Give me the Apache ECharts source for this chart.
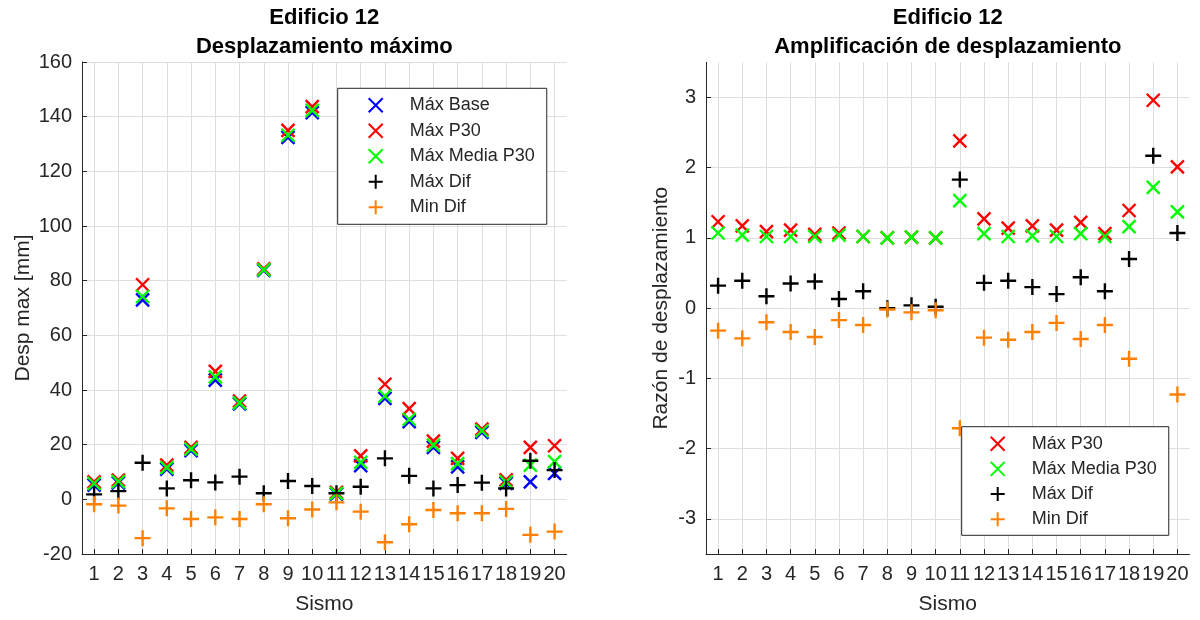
<!DOCTYPE html>
<html>
<head>
<meta charset="utf-8">
<script src="https://cdn.jsdelivr.net/npm/echarts@6/dist/echarts.min.js"></script>
<style>html,body{margin:0;padding:0;background:#fff}#c{width:1200px;height:620px}</style>
</head>
<body>
<div id="c"></div>
<script>
const categories = ['1','2','3','4','5','6','7','8','9','10','11','12','13','14','15','16','17','18','19','20'];

// Left: Desplazamiento máximo [mm]
const leftMaxBase = [5.2, 6.0, 73.0, 11.0, 17.8, 43.6, 34.9, 83.8, 132.4, 141.5, 1.9, 12.3, 36.9, 28.4, 19.0, 11.9, 24.5, 5.8, 6.4, 9.5];
const leftMaxP30 = [6.4, 7.0, 78.5, 12.5, 19.0, 46.8, 35.9, 84.3, 135.0, 143.7, 2.6, 15.9, 42.1, 33.2, 21.3, 15.0, 25.7, 7.1, 19.0, 19.6];
const leftMaxMediaP30 = [5.8, 6.5, 74.2, 11.6, 18.4, 44.8, 35.3, 84.0, 133.2, 142.3, 2.2, 13.5, 37.8, 29.3, 19.8, 13.1, 25.1, 6.4, 12.5, 13.8];
const leftMaxDif = [1.8, 3.0, 13.4, 4.0, 7.0, 6.2, 8.3, 2.2, 6.7, 4.9, 2.2, 4.6, 15.0, 8.6, 4.0, 5.2, 6.1, 4.0, 14.1, 10.7];
const leftMinDif = [-1.8, -2.3, -14.2, -3.3, -7.2, -6.6, -7.2, -1.8, -6.9, -3.7, -1.1, -4.5, -15.7, -9.1, -3.9, -5.1, -5.1, -3.5, -13.0, -11.8];

// Right: Razón de desplazamiento
const rightMaxP30 = [1.23, 1.17, 1.09, 1.11, 1.05, 1.07, 1.02, 1.00, 1.01, 1.00, 2.38, 1.27, 1.14, 1.17, 1.11, 1.22, 1.06, 1.39, 2.96, 2.01];
const rightMaxMediaP30 = [1.07, 1.04, 1.02, 1.02, 1.02, 1.04, 1.02, 1.00, 1.01, 1.00, 1.53, 1.06, 1.02, 1.03, 1.02, 1.06, 1.02, 1.16, 1.72, 1.37];
const rightMaxDif = [0.32, 0.39, 0.17, 0.35, 0.38, 0.13, 0.24, 0.00, 0.04, 0.02, 1.83, 0.36, 0.39, 0.30, 0.20, 0.44, 0.24, 0.70, 2.17, 1.07];
const rightMinDif = [-0.32, -0.43, -0.20, -0.34, -0.41, -0.17, -0.24, -0.02, -0.06, -0.03, -1.71, -0.42, -0.45, -0.34, -0.21, -0.44, -0.24, -0.72, -2.00, -1.23];

const leftYTicks = [-20, 0, 20, 40, 60, 80, 100, 120, 140, 160];
const rightYTicks = [-3, -2, -1, 0, 1, 2, 3];

const FONT = "'Liberation Sans', Arial, Helvetica, sans-serif";
const AX = '#262626';
const GRIDC = '#dedede';
const X_SYM = 'path://M0,0L10,10M10,0L0,10';
const P_SYM = 'path://M5,0L5,10M0,5L10,5';

function sc(name, data, color, sym, ax) {
  return {
    type: 'scatter', name: name, data: data,
    xAxisIndex: ax, yAxisIndex: ax,
    symbol: sym, symbolSize: sym === X_SYM ? 13 : 16,
    itemStyle: { color: 'rgba(0,0,0,0)', borderColor: color, borderWidth: 2.4, opacity: 1 },
    emphasis: { disabled: true },
    clip: false
  };
}

function xAx(gi) {
  return {
    type: 'category', gridIndex: gi, data: categories, boundaryGap: true,
    axisLine: { show: true, onZero: false, lineStyle: { color: AX, width: 1 } },
    axisTick: { show: true, inside: true, length: 5, alignWithLabel: true, interval: 0, lineStyle: { color: AX } },
    axisLabel: { interval: 0, fontSize: 20, color: AX, fontFamily: FONT, margin: 10 },
    splitLine: { show: true, alignWithLabel: true, interval: 0, lineStyle: { color: GRIDC, width: 1 } },
    name: 'Sismo', nameLocation: 'middle', nameGap: 40,
    nameTextStyle: { fontSize: 21, color: AX, fontFamily: FONT }
  };
}

const chart = echarts.init(document.getElementById('c'), null, { renderer: 'canvas' });
chart.setOption({
  animation: false,
  backgroundColor: '#fff',
  grid: [
    { left: 82, top: 62, width: 484.7, height: 493.7, containLabel: false },
    { left: 706, top: 62.3, width: 483.5, height: 493.4, containLabel: false }
  ],
  xAxis: [xAx(0), xAx(1)],
  yAxis: [
    {
      type: 'value', gridIndex: 0, min: -20, max: 160, interval: 20,
      axisLine: { show: true, onZero: false, lineStyle: { color: AX, width: 1 } },
      axisTick: { show: true, inside: true, length: 5, lineStyle: { color: AX } },
      axisLabel: { fontSize: 20, color: AX, fontFamily: FONT, margin: 10 },
      splitLine: { show: true, lineStyle: { color: GRIDC, width: 1 } },
      name: 'Desp max [mm]', nameLocation: 'middle', nameGap: 48,
      nameTextStyle: { fontSize: 21, color: AX, fontFamily: FONT }
    },
    {
      type: 'value', gridIndex: 1, min: -3.5, max: 3.5, splitNumber: 7,
      axisLine: { show: true, onZero: false, lineStyle: { color: AX, width: 1 } },
      axisTick: { show: true, inside: true, length: 5, customValues: rightYTicks, lineStyle: { color: AX } },
      axisLabel: { fontSize: 20, color: AX, fontFamily: FONT, margin: 10, customValues: rightYTicks },
      splitLine: { show: true, lineStyle: { color: GRIDC, width: 1 } },
      name: 'Razón de desplazamiento', nameLocation: 'middle', nameGap: 34,
      nameTextStyle: { fontSize: 21, color: AX, fontFamily: FONT }
    }
  ],
  legend: [
    {
      data: ['Máx Base', 'Máx P30', 'Máx Media P30', 'Máx Dif', 'Min Dif'],
      orient: 'vertical', left: 337.7, top: 88.3,
      padding: [8, 12, 8, 30], itemGap: 7.5, itemWidth: 14, itemHeight: 14,
      backgroundColor: '#fff', borderColor: AX, borderWidth: 1, borderRadius: 0,
      selectedMode: false,
      textStyle: { fontSize: 18, color: AX, fontFamily: FONT, lineHeight: 18, padding: [0, 0, 0, 22] }
    },
    {
      data: ['Máx P30', 'Máx Media P30', 'Máx Dif', 'Min Dif'],
      orient: 'vertical', left: 961.7, top: 426.7,
      padding: [8, 12, 7, 28], itemGap: 7.2, itemWidth: 14, itemHeight: 14,
      backgroundColor: '#fff', borderColor: AX, borderWidth: 1, borderRadius: 0,
      selectedMode: false,
      textStyle: { fontSize: 18, color: AX, fontFamily: FONT, lineHeight: 18, padding: [0, 0, 0, 22] }
    }
  ],
  graphic: [
    { type: 'text', x: 324.3, y: 18, style: { text: 'Edificio 12', font: 'bold 22px ' + FONT, fill: '#000', textAlign: 'center', textVerticalAlign: 'middle' } },
    { type: 'text', x: 324.3, y: 47, style: { text: 'Desplazamiento máximo', font: 'bold 22px ' + FONT, fill: '#000', textAlign: 'center', textVerticalAlign: 'middle' } },
    { type: 'text', x: 947.8, y: 18, style: { text: 'Edificio 12', font: 'bold 22px ' + FONT, fill: '#000', textAlign: 'center', textVerticalAlign: 'middle' } },
    { type: 'text', x: 947.8, y: 47, style: { text: 'Amplificación de desplazamiento', font: 'bold 22px ' + FONT, fill: '#000', textAlign: 'center', textVerticalAlign: 'middle' } }
  ],
  series: [
    sc('Máx Base', leftMaxBase, '#0000ff', X_SYM, 0),
    sc('Máx P30', leftMaxP30, '#ff0000', X_SYM, 0),
    sc('Máx Media P30', leftMaxMediaP30, '#00ff00', X_SYM, 0),
    sc('Máx Dif', leftMaxDif, '#000000', P_SYM, 0),
    sc('Min Dif', leftMinDif, '#ff8000', P_SYM, 0),
    sc('Máx P30', rightMaxP30, '#ff0000', X_SYM, 1),
    sc('Máx Media P30', rightMaxMediaP30, '#00ff00', X_SYM, 1),
    sc('Máx Dif', rightMaxDif, '#000000', P_SYM, 1),
    sc('Min Dif', rightMinDif, '#ff8000', P_SYM, 1)
  ]
});
</script>
</body>
</html>
